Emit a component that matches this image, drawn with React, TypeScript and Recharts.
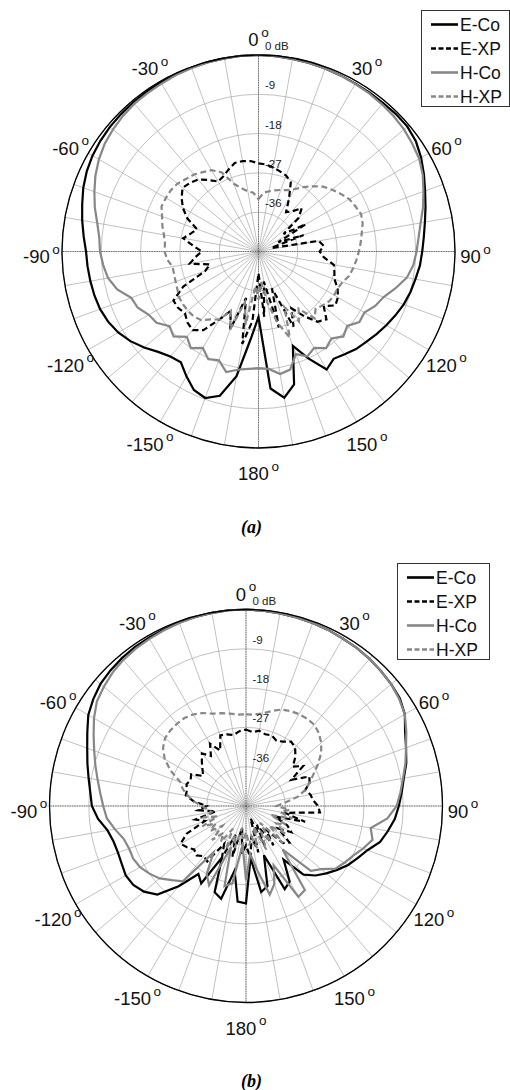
import React from 'react';
import { RadarChart, Radar, PolarGrid, PolarAngleAxis, PolarRadiusAxis } from 'recharts';

// angle categories, degrees clockwise from the top (5 deg steps, 0..355)
const ANGLES = Array.from({ length: 72 }, (_, i) => i * 5);
const RING_TICKS = [-45, -36, -27, -18, -9, 0];
const SPOKE_ANGLES = Array.from({ length: 36 }, (_, i) => i * 10);

// values in dB, order: 0,5,...,180 then -175,...,-5
const A_ECO = [
  0, -0.1, -0.2, -0.3, -0.4, -0.5, -0.6, -0.6, -0.6, -0.5,
  -0.5, -1.0, -2.0, -3.2, -4.4, -5.4, -6.3, -7.0, -7.5, -7.9,
  -8.5, -9.0, -9.6, -10.4, -11.2, -12.0, -12.8, -13.4, -14.3, -15.0,
  -13.8, -18.0, -22.0, -13.5, -11.0, -13.5, -30.0,
  -25.0, -16.0, -10.8, -9.3, -10.0, -12.0, -14.0, -13.6, -12.5, -10.8,
  -9.2, -7.9, -7.0, -6.4, -6.1, -5.9, -5.7, -5.5, -4.8, -4.0,
  -3.2, -2.3, -1.6, -1.1, -0.8, -0.6, -0.5, -0.4, -0.3, -0.3,
  -0.2, -0.2, -0.1, -0.1, 0,
];
const A_EXP = [
  -24.8, -25.0, -25.5, -26.0, -26.5, -27.5, -31.0, -34.0, -33.0, -31.0,
  -33.0, -38.0, -32.5, -40.0, -34.0, -42.0, -31.0, -30.0, -31.0, -30.0,
  -27.5, -27.0, -26.5, -25.0, -24.0, -23.5, -25.5, -23.0, -24.0, -27.0,
  -30.0, -26.0, -36.0, -27.0, -38.0, -30.0, -40.0,
  -29.0, -23.5, -34.0, -26.0, -30.0, -27.0, -23.0, -21.5, -22.0, -23.0,
  -22.5, -22.5, -26.0, -32.0, -33.5, -29.0, -30.5, -32.0, -30.0, -27.5,
  -29.0, -30.0, -27.0, -25.0, -23.5, -22.3, -22.8, -23.5, -25.0, -26.5,
  -26.0, -25.0, -24.0, -24.0, -24.2,
];
const A_HCO = [
  0, -0.1, -0.2, -0.3, -0.4, -0.5, -0.7, -0.8, -1.0, -1.2,
  -1.5, -2.0, -2.5, -3.5, -4.8, -6.0, -7.3, -8.2, -8.8, -9.4,
  -10.5, -12.5, -14.5, -15.5, -17.0, -16.8, -18.5, -17.5, -19.0, -18.0,
  -19.5, -18.5, -20.0, -17.0, -16.5, -18.0, -18.3,
  -18.0, -17.5, -16.4, -18.5, -17.8, -19.5, -18.0, -19.5, -17.5, -18.4,
  -16.5, -16.0, -14.5, -14.0, -11.5, -10.0, -9.3, -8.7, -8.4, -7.5,
  -6.2, -5.0, -3.8, -2.8, -2.0, -1.5, -1.1, -0.8, -0.7, -0.6,
  -0.4, -0.3, -0.2, -0.1, 0,
];
const A_HXP = [
  -33.0, -31.5, -31.0, -30.5, -30.0, -29.5, -28.5, -27.0, -25.5, -24.0,
  -23.0, -22.0, -21.0, -20.5, -20.0, -20.3, -21.0, -21.5, -22.0, -22.5,
  -23.0, -23.5, -24.5, -25.0, -25.0, -25.2, -25.8, -26.5, -25.0, -29.0,
  -26.5, -31.0, -24.0, -28.0, -33.0, -38.0, -34.0,
  -37.0, -28.0, -33.0, -26.0, -30.0, -27.0, -26.0, -24.5, -24.0, -23.9,
  -23.9, -24.0, -24.5, -24.8, -25.0, -25.0, -24.0, -23.5, -23.5, -23.0,
  -22.2, -21.5, -20.5, -20.5, -20.5, -20.8, -21.5, -22.0, -22.8, -23.5,
  -25.0, -28.5, -30.0, -31.0, -31.5,
];

const B_ECO = [
  0, -0.1, -0.2, -0.3, -0.4, -0.5, -0.7, -0.8, -1.0, -1.3,
  -1.6, -2.0, -3.0, -4.8, -6.0, -7.0, -8.3, -9.2, -10.0, -10.8,
  -12.0, -13.2, -15.4, -16.8, -18.0, -19.5, -21.0, -22.5, -24.5, -30.0,
  -25.0, -24.0, -33.0, -26.0, -25.0, -33.0, -22.7,
  -23.0, -30.0, -23.0, -24.0, -32.0, -24.5, -26.0, -21.0, -16.3, -14.5,
  -13.5, -13.2, -13.6, -13.8, -13.6, -12.8, -11.0, -9.7, -9.2, -8.4,
  -7.4, -6.3, -4.9, -3.3, -2.3, -1.5, -1.1, -0.8, -0.6, -0.5,
  -0.4, -0.3, -0.2, -0.1, 0,
];
const B_EXP = [
  -27.5, -28.0, -27.5, -28.0, -27.8, -28.5, -28.0, -27.0, -27.5, -29.0,
  -31.0, -29.0, -33.0, -29.0, -29.5, -31.0, -30.0, -29.6, -28.5, -28.0,
  -36.0, -31.0, -38.0, -34.6, -33.0, -36.0, -32.0, -33.0, -38.0, -34.0,
  -40.0, -35.0, -42.0, -34.0, -38.0, -33.0, -36.0,
  -34.0, -40.0, -33.0, -38.0, -32.0, -35.0, -29.5, -30.0, -29.0, -29.5,
  -28.5, -27.7, -30.0, -35.0, -33.0, -38.0, -34.0, -36.0, -33.0, -31.0,
  -31.0, -30.5, -31.0, -30.5, -33.0, -32.0, -30.7, -29.3, -31.0, -28.5,
  -31.0, -27.8, -28.0, -28.5, -27.8,
];
const B_HCO = [
  0, -0.1, -0.2, -0.3, -0.4, -0.5, -0.7, -0.8, -1.0, -1.3,
  -1.6, -2.2, -3.0, -4.5, -6.0, -7.2, -8.5, -9.5, -10.5, -12.5,
  -16.0, -15.0, -16.5, -18.0, -19.0, -20.0, -22.5, -24.0, -32.0, -21.5,
  -21.0, -30.0, -26.0, -24.0, -30.0, -34.0, -28.0,
  -36.0, -27.0, -26.0, -35.0, -25.0, -27.0, -32.0, -22.5, -21.0, -19.2,
  -18.0, -17.0, -16.5, -16.5, -16.0, -14.5, -13.0, -12.3, -11.5, -10.5,
  -9.3, -8.0, -6.5, -4.8, -3.3, -2.5, -1.8, -1.3, -1.0, -0.8,
  -0.6, -0.4, -0.2, -0.1, 0,
];
const B_HXP = [
  -24.0, -24.0, -23.5, -22.5, -21.5, -21.0, -20.7, -20.6, -20.7, -21.4,
  -22.5, -24.0, -26.0, -28.0, -29.5, -31.0, -33.0, -36.0, -38.0, -35.0,
  -37.0, -34.0, -39.0, -35.0, -37.0, -34.0, -38.0, -33.0, -40.0, -35.0,
  -38.0, -34.0, -40.0, -35.0, -38.0, -36.0, -39.0,
  -36.0, -40.0, -35.0, -38.0, -34.0, -39.0, -35.0, -37.0, -34.0, -38.0,
  -35.0, -37.0, -34.0, -38.0, -35.0, -37.0, -36.0, -35.0, -33.0, -31.5,
  -30.0, -29.0, -26.0, -23.5, -21.8, -20.8, -20.5, -20.4, -20.4, -20.8,
  -21.5, -22.5, -23.0, -23.5, -24.0,
];

const FONT = '"Liberation Sans", Arial, Helvetica, sans-serif';
const GRAY = '#878787';
const R = 196.5;
const LABEL_R = 217;

const SERIES = [
  { key: 'eco', name: 'E-Co', color: '#000', dash: undefined as string | undefined },
  { key: 'exp', name: 'E-XP', color: '#000', dash: '6 3.5' },
  { key: 'hco', name: 'H-Co', color: GRAY, dash: undefined },
  { key: 'hxp', name: 'H-XP', color: GRAY, dash: '6 3.5' },
];

function buildRows(eco: number[], exp: number[], hco: number[], hxp: number[]) {
  return ANGLES.map((angle, i) => ({ angle, eco: eco[i], exp: exp[i], hco: hco[i], hxp: hxp[i] }));
}

const makeAngleTick = (cx: number, cy: number) => (props: any) => {
  const v = Number(props.payload?.value);
  if (v % 30 !== 0) return <g />;
  const rad = (v * Math.PI) / 180;
  const x = cx + LABEL_R * Math.sin(rad);
  const y = cy - LABEL_R * Math.cos(rad) + 5;
  const label = v > 180 ? v - 360 : v;
  return (
    <text x={x} y={y} textAnchor="middle" dominantBaseline="central" fontSize={18.5} fontFamily={FONT} fill="#111">
      {label}
      <tspan dx={2.5} dy={-8} fontSize={13.5}>o</tspan>
    </text>
  );
};

const radiusTick = (props: any) => {
  const v = Number(props.payload?.value);
  if (v === -45) return <g />;
  return (
    <text x={props.x + 6.5} y={props.y - 5} fontSize={11.5} fontFamily={FONT} fill="#222" textAnchor="start">
      {v === 0 ? '0 dB' : v}
    </text>
  );
};

function PatternLegend({ left, top, width }: { left: number; top: number; width: number }) {
  return (
    <div
      style={{
        position: 'absolute', left, top, width, height: 97,
        border: '1px solid #333', background: '#fff', boxSizing: 'border-box',
      }}
    >
      <svg width={width - 2} height={95} style={{ display: 'block' }}>
        {SERIES.map((s, i) => {
          const y = 13.5 + i * 24;
          return (
            <g key={s.key}>
              <line x1={9} x2={36} y1={y} y2={y} stroke={s.color} strokeWidth={2.6} strokeDasharray={s.dash ? '5 2.5' : undefined} />
              <text x={38} y={y} dominantBaseline="central" fontSize={17.5} fontFamily={FONT} fill="#111">{s.name}</text>
            </g>
          );
        })}
      </svg>
    </div>
  );
}

function PolarPattern({ rows, cx, cy }: { rows: any[]; cx: number; cy: number }) {
  return (
    <RadarChart
      width={510}
      height={545}
      data={rows}
      cx={cx}
      cy={cy}
      innerRadius={0}
      outerRadius={R}
      startAngle={90}
      endAngle={-270}
      margin={{ top: 0, right: 0, bottom: 0, left: 0 }}
    >
      <PolarGrid gridType="circle" polarAngles={SPOKE_ANGLES.map((a) => 90 - a)} stroke="#a6a6a6" strokeWidth={0.7} />
      <PolarGrid gridType="circle" polarAngles={[90, 0, -90, -180]} polarRadius={[R]} stroke="#555" strokeWidth={0.8} strokeDasharray="1.2 1.2" />
      <PolarAngleAxis
        dataKey="angle"
        tick={makeAngleTick(cx, cy)}
        tickLine={false}
        axisLineType="circle"
        axisLine={{ stroke: '#000', strokeWidth: 1.3 }}
      />
      <PolarRadiusAxis
        angle={90}
        type="number"
        domain={[-45, 0]}
        ticks={RING_TICKS}
        tick={radiusTick}
        axisLine={false}
        tickLine={false}
        allowDataOverflow
      />
      {SERIES.map((s) => (
        <Radar
          key={s.key}
          name={s.name}
          dataKey={s.key}
          stroke={s.color}
          strokeWidth={2.2}
          strokeDasharray={s.dash}
          fill="none"
          fillOpacity={0}
          dot={false}
          isAnimationActive={false}
        />
      ))}
    </RadarChart>
  );
}

const captionStyle: React.CSSProperties = {
  position: 'absolute',
  left: 0,
  width: 503,
  textAlign: 'center',
  fontFamily: '"Liberation Serif", "Times New Roman", serif',
  fontWeight: 'bold',
  fontStyle: 'italic',
  fontSize: 18,
  lineHeight: '18px',
};

export default function App() {
  const rowsA = buildRows(A_ECO, A_EXP, A_HCO, A_HXP);
  const rowsB = buildRows(B_ECO, B_EXP, B_HCO, B_HXP);
  return (
    <div style={{ position: 'absolute', left: 0, top: 0, width: 510, height: 1090, background: '#fff', overflow: 'hidden' }}>
      <div style={{ position: 'absolute', left: 0, top: 0 }}>
        <PolarPattern rows={rowsA} cx={258.5} cy={251.5} />
      </div>
      <PatternLegend left={421} top={10} width={89} />
      <div style={{ ...captionStyle, top: 518 }}>(a)</div>

      <div style={{ position: 'absolute', left: 0, top: 545 }}>
        <PolarPattern rows={rowsB} cx={246} cy={261} />
      </div>
      <PatternLegend left={397} top={563} width={93} />
      <div style={{ ...captionStyle, top: 1072 }}>(b)</div>
    </div>
  );
}
